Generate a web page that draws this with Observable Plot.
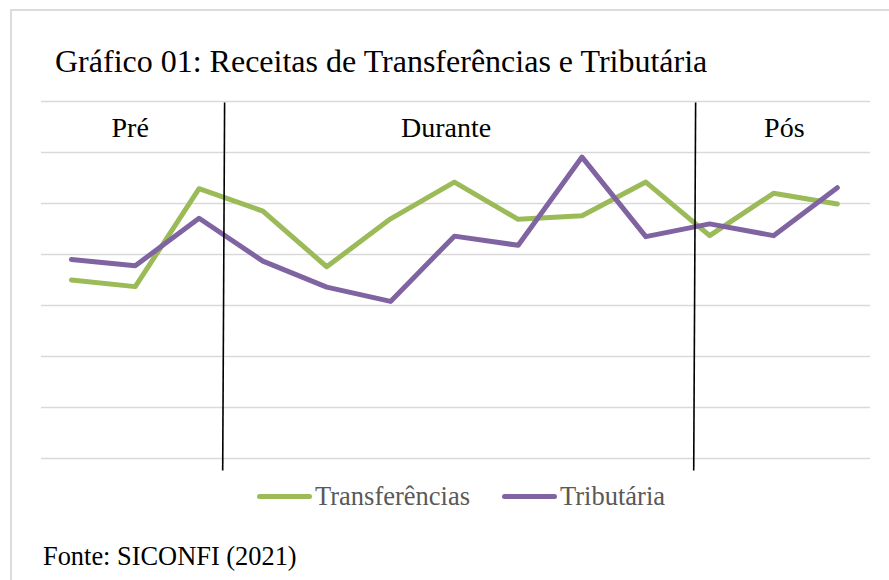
<!DOCTYPE html>
<html><head><meta charset="utf-8">
<script src="https://cdn.jsdelivr.net/npm/d3@7"></script>
<script src="https://cdn.jsdelivr.net/npm/@observablehq/plot@0.6"></script>
<style>
html,body{margin:0;background:#fff;overflow:hidden;}
#wrap{position:relative;width:889px;height:580px;overflow:hidden;font-family:"Liberation Serif","Times New Roman",serif;background:#fff;}
#frame{position:absolute;left:10px;top:9px;width:879px;height:571px;border-left:2px solid #dcdcdc;border-top:2px solid #dcdcdc;}
#title{position:absolute;left:55px;top:45px;font-size:32px;line-height:1;color:#000;white-space:nowrap;}
#chart{position:absolute;left:0;top:0;}
#chart text{font-family:"Liberation Serif","Times New Roman",serif !important;}
#legend{position:absolute;left:257px;top:483px;display:flex;align-items:center;font-size:26.5px;line-height:1;color:#595959;white-space:nowrap;}
.sw{display:inline-block;width:55px;height:5px;border-radius:3px;margin-right:3px;}
.item{display:flex;align-items:center;margin-right:32px;}
#fonte{position:absolute;left:43px;top:543px;font-size:26.4px;line-height:1;color:#000;white-space:nowrap;}
</style></head>
<body>
<div id="wrap">
  <div id="frame"></div>
  <div id="chart"></div>
  <div id="title">Gráfico 01: Receitas de Transferências e Tributária</div>
  <div id="legend"></div>
  <div id="fonte">Fonte: SICONFI (2021)</div>
</div>
<script>
const pontos = [0,1,2,3,4,5,6,7,8,9,10,11,12];
const transferencias = [3.50, 3.37, 5.29, 4.85, 3.76, 4.70, 5.42, 4.69, 4.76, 5.42, 4.37, 5.20, 4.99];
const tributaria = [3.90, 3.78, 4.71, 3.87, 3.36, 3.08, 4.36, 4.18, 5.91, 4.35, 4.60, 4.37, 5.31];
const series = ["Transferências", "Tributária"];
const cores = ["#9BBB59", "#8064A2"];
const fases = ["Pré", "Durante", "Pós"];
const faseX = [0.92, 5.87, 11.17];
const faseY = 6.47;
const divisaoTopo = [2.40, 9.78];
const divisaoBase = [2.37, 9.75];
const gradeY = [0,1,2,3,4,5,6,7];

const dados = [];
pontos.forEach((p, i) => {
  dados.push({i: p, v: transferencias[i], serie: series[0]});
  dados.push({i: p, v: tributaria[i], serie: series[1]});
});
const divisoes = divisaoTopo.map((x, k) => ({x1: x, x2: divisaoBase[k]}));
const rotulos = fases.map((f, k) => ({f, x: faseX[k], y: faseY}));
const serif = '"Liberation Serif","Times New Roman",serif';

const chart = Plot.plot({
  width: 889, height: 480,
  marginLeft: 41, marginRight: 19, marginTop: 101, marginBottom: 22,
  x: {domain: [-0.469, 12.52], axis: null},
  y: {domain: [0, 7], axis: null},
  color: {domain: series, range: cores},
  style: {fontFamily: serif, background: "transparent"},
  marks: [
    Plot.ruleY(gradeY, {stroke: "#d9d9d9", strokeWidth: 1.5}),
    Plot.line(dados, {x: "i", y: "v", z: "serie", stroke: "serie", strokeWidth: 5, strokeLinejoin: "round", strokeLinecap: "round"}),
    Plot.link(divisoes, {x1: "x1", x2: "x2", y1: () => 6.98, y2: () => -0.235, stroke: "#000", strokeWidth: 1.6}),
    Plot.text(rotulos, {x: "x", y: "y", text: "f", fontSize: 28, fill: "#000"})
  ]
});
d3.select(chart).selectAll("text").style("font-family", serif);
document.getElementById("chart").appendChild(chart);

const leg = document.getElementById("legend");
series.forEach((s, k) => {
  const it = document.createElement("div");
  it.className = "item";
  const sw = document.createElement("span");
  sw.className = "sw";
  sw.style.background = cores[k];
  const t = document.createElement("span");
  t.textContent = s;
  it.appendChild(sw); it.appendChild(t);
  leg.appendChild(it);
});
</script>
</body></html>
